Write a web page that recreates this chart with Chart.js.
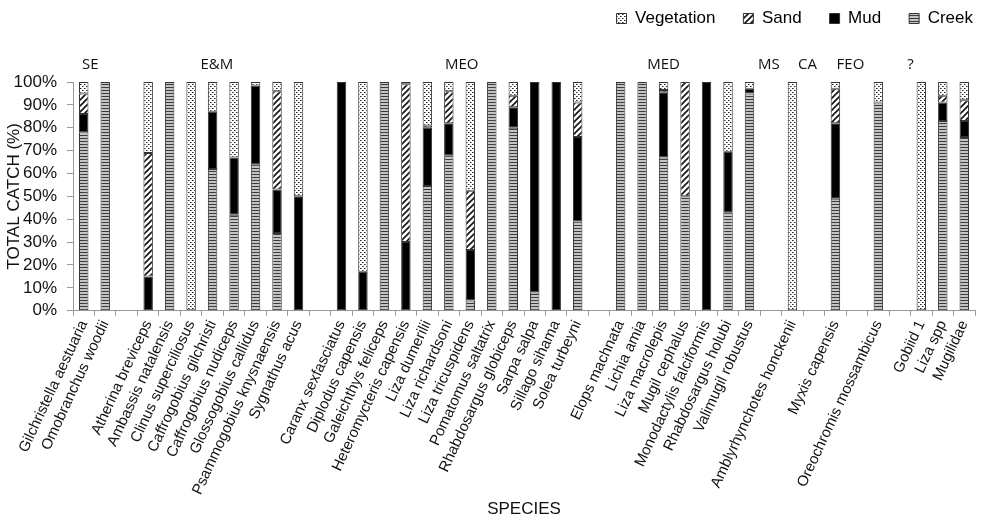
<!DOCTYPE html>
<html>
<head>
<meta charset="utf-8">
<script src="https://cdn.jsdelivr.net/npm/chart.js@4/dist/chart.umd.min.js"></script>
<style>
html,body{margin:0;padding:0;background:#fff;}
#wrap{width:999px;height:530px;position:relative;}
</style>
</head>
<body>
<div id="wrap"><canvas id="c" width="999" height="530"></canvas></div>
<script>
const species = [
  "Gilchristella aestuaria","Omobranchus woodii","",
  "Atherina breviceps","Ambassis natalensis","Clinus superciliosus","Caffrogobius gilchristi","Caffrogobius nudiceps","Glossogobius callidus","Psammogobius knysnaensis","Sygnathus acus","",
  "Caranx sexfasciatus","Diplodus capensis","Galeichthys feliceps","Heteromycteris capensis","Liza dumerilii","Liza richardsoni","Liza tricuspidens","Pomatomus saltatrix","Rhabdosargus globiceps","Sarpa salpa","Sillago sihama","Solea turbeyni","",
  "Elops machnata","Lichia amia","Liza macrolepis","Mugil cephalus","Monodactylis falciformis","Rhabdosargus holubi","Valimugil robustus","",
  "Amblyrhynchotes honckenii","",
  "Myxis capensis","",
  "Oreochromis mossambicus","",
  "Gobiid 1","Liza spp","Mugilidae"
];
const creek = [78,100,0, 0,100,0,62,42,64,34,0, 0, 0,0,100,0,54.5,68,4.5,100,80,8,0,39, 0, 100,100,67,50,0,43,95, 0, 0,0, 49,0, 91,0, 0,83,76];
const mud   = [8,0,0, 15,0,0,25,25,34.5,19,50, 0, 100,17,0,30,25.5,14,22,0,9,92,100,37, 0, 0,0,28.5,0,100,26.5,2, 0, 0,0, 33,0, 0,0, 0,8,7];
const sand  = [9,0,0, 54,0,0,0,0,0,43,0, 0, 0,0,0,69,1,14,26,0,5,0,0,15, 0, 0,0,1,50,0,0,0, 0, 0,0, 15,0, 0,0, 0,3,9];
const veg   = [5,0,0, 31,0,100,13,33,1.5,4,50, 0, 0,83,0,1,19,4,47.5,0,6,0,0,9, 0, 0,0,3.5,0,0,30.5,3, 0, 100,0, 3,0, 9,0, 100,6,8];
const groupNames = ["SE","E&M","MEO","MED","MS","CA","FEO","?"];
const groupFirst = [0,3,12,25,33,35,37,39];
const groupLast  = [1,10,23,31,33,35,37,41];
const yTicks = [0,10,20,30,40,50,60,70,80,90,100];

function makePattern(kind){
  const c = document.createElement('canvas');
  const g = c.getContext('2d');
  if(kind==='creek'){
    c.width=4;c.height=3;
    g.fillStyle='#c4c4c4';g.fillRect(0,0,4,3);
    g.fillStyle='#3c3c3c';g.fillRect(0,0,4,1);
  } else if(kind==='veg'){
    c.width=4;c.height=4;
    g.fillStyle='#ffffff';g.fillRect(0,0,4,4);
    g.fillStyle='#222';g.fillRect(0,0,1,1);g.fillRect(2,2,1,1);
    g.fillStyle='#888';g.fillRect(1,0,1,1);g.fillRect(3,2,1,1);
  } else if(kind==='sand'){
    c.width=6;c.height=6;
    g.fillStyle='#ffffff';g.fillRect(0,0,6,6);
    g.strokeStyle='#111';g.lineWidth=1.6;
    g.beginPath();
    g.moveTo(-1,7);g.lineTo(7,-1);
    g.moveTo(-4,4);g.lineTo(4,-4);
    g.moveTo(2,10);g.lineTo(10,2);
    g.stroke();
  }
  return g.createPattern(c,'repeat');
}
const nz = a => a.map(v => v ? v : null);

const groupPlugin = {
  id:'groupLabels',
  afterDraw(chart){
    const x = chart.scales.x, ctx = chart.ctx;
    const nudge = [-0.2,-0.3,0.1,-1.0,-1.1,-1.3,-1.3,-1.5];
    ctx.save();
    ctx.font = '15px "Open Sans", "Liberation Sans", sans-serif';
    ctx.fillStyle = '#111';
    ctx.textAlign='center';ctx.textBaseline='middle';
    const step = x.getPixelForValue(1)-x.getPixelForValue(0);
    groupNames.forEach((n,i)=>{
      const cx = (x.getPixelForValue(groupFirst[i])+x.getPixelForValue(groupLast[i]))/2 + nudge[i]*step;
      ctx.fillText(n, cx, chart.chartArea.top-17);
    });
    ctx.restore();
  }
};
const legendSpace = {
  id:'legendSpace',
  beforeInit(chart){
    const fit = chart.legend.fit;
    chart.legend.fit = function(){ fit.bind(chart.legend)(); this.height += 45; };
  },
  afterLayout(chart){
    chart.legend.left += 26; chart.legend.right += 26;
  }
};

new Chart(document.getElementById('c'),{
  type:'bar',
  data:{
    labels:species,
    datasets:[
      {label:'Creek',data:nz(creek),backgroundColor:makePattern('creek')},
      {label:'Mud',data:nz(mud),backgroundColor:'#000'},
      {label:'Sand',data:nz(sand),backgroundColor:makePattern('sand')},
      {label:'Vegetation',data:nz(veg),backgroundColor:makePattern('veg')}
    ].map(d=>Object.assign(d,{borderColor:'#333',borderWidth:1,borderSkipped:false,barPercentage:0.44,categoryPercentage:1}))
  },
  options:{
    responsive:false,animation:false,
    layout:{padding:{left:0,right:24,top:-18,bottom:10}},
    plugins:{
      legend:{position:'top',align:'end',reverse:true,
        labels:{boxWidth:10,boxHeight:10,padding:28,color:'#000',font:{family:'"Liberation Sans", Arial, sans-serif',size:17}}},
      tooltip:{enabled:false}
    },
    scales:{
      x:{stacked:true,
        grid:{display:true,drawOnChartArea:false,drawTicks:true,tickLength:5,color:'#999',offset:true},
        border:{color:'#999'},
        ticks:{autoSkip:false,maxRotation:65,minRotation:65,color:'#111',padding:2,font:{family:'"Liberation Sans", Arial, sans-serif',size:15}},
        title:{display:true,text:'SPECIES',color:'#111',padding:{top:0,bottom:0},font:{family:'"Liberation Sans", Arial, sans-serif',size:17}}
      },
      y:{stacked:true,min:0,max:100,
        afterBuildTicks(s){ s.ticks = yTicks.map(v=>({value:v})); },
        afterFit(s){ s.width = 73; },
        grid:{display:true,drawOnChartArea:false,drawTicks:true,tickLength:6,color:'#999'},
        border:{color:'#999'},
        ticks:{autoSkip:false,callback:v=>v+'%',color:'#111',padding:10,font:{family:'"Liberation Sans", Arial, sans-serif',size:17}},
        title:{display:true,text:'TOTAL CATCH (%)',color:'#111',padding:{top:4,bottom:0},font:{family:'"Liberation Sans", Arial, sans-serif',size:17}}
      }
    }
  },
  plugins:[groupPlugin,legendSpace]
});
</script>
</body>
</html>
